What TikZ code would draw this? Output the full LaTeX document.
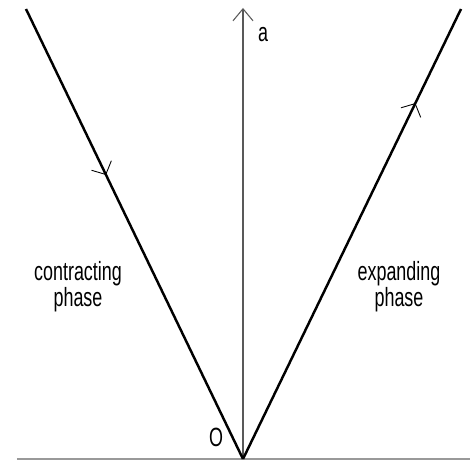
\documentclass[tikz,border=0pt]{standalone}
\usepackage{fontspec}
\setmainfont{Liberation Sans}
\usetikzlibrary{arrows.meta,decorations.markings}

\begin{document}
\begin{tikzpicture}[
  worldline/.style={line width=1.4pt},
  axisline/.style={line width=0.6pt, gray!70!black},
  groundline/.style={line width=1pt, gray!80},
  lbl/.style={font=\fontsize{15}{12.5}\selectfont, align=center, xscale=0.68, inner sep=0pt},
  midarrow/.style={postaction={decorate}, decoration={markings,
    mark=at position #1 with {\arrow{Straight Barb[length=2mm,width=4.4mm,line width=0.5pt]}}}},
]

%% -- Frame --------------------------------------------------------------
\useasboundingbox (0,0) rectangle (9.4,9.2);

%% -- Points -------------------------------------------------------------
\coordinate (O)  at (4.86,0.02);
\coordinate (L)  at (0.52,9.02);
\coordinate (R)  at (9.22,9.02);
\coordinate (A)  at (4.86,9.04);
\coordinate (gW) at (0.34,0.02);
\coordinate (gE) at (9.40,0.02);

%% -- Axes ---------------------------------------------------------------
\draw[groundline] (gW) -- (gE);
\draw[axisline, -{Straight Barb[length=2.4mm,width=4mm]}] (O) -- (A);

%% -- Contracting and expanding branches ---------------------------------
\draw[worldline, midarrow=0.369] (L) -- (O);
\draw[worldline, midarrow=0.791] (O) -- (R);

%% -- Labels -------------------------------------------------------------
\node[lbl] (a)   at (5.26,8.50) {a};
\node[lbl] (o)   at (4.32,0.46) {O};
\node[lbl] (con) at (1.56,3.46) {contracting\\phase};
\node[lbl] (exp) at (7.98,3.46) {expanding\\phase};

\end{tikzpicture}
\end{document}
